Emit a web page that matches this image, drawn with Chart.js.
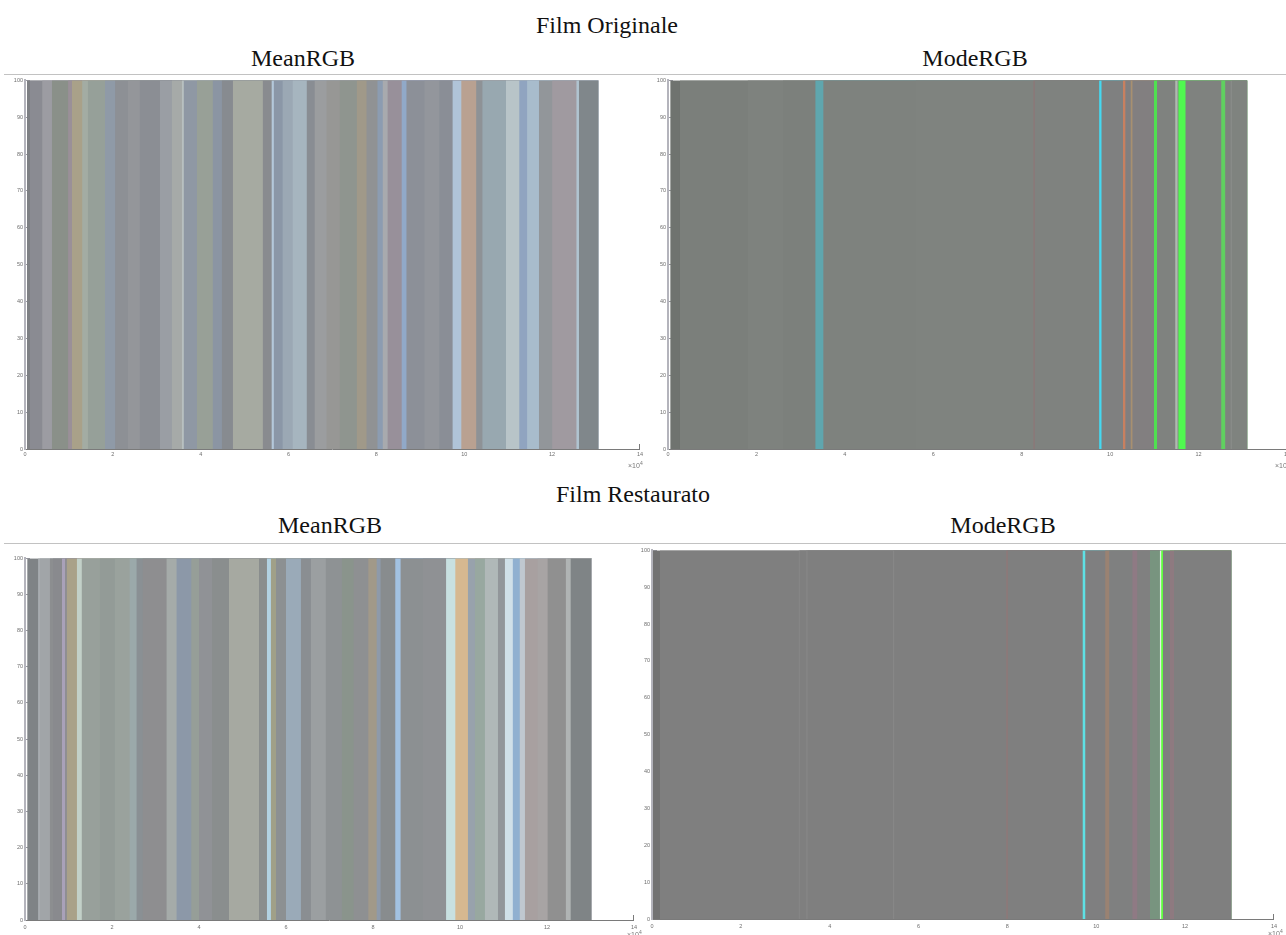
<!DOCTYPE html>
<html>
<head>
<meta charset="utf-8">
<script src="https://cdn.jsdelivr.net/npm/chart.js@4"></script>
<style>
  html, body { margin: 0; padding: 0; background: #fff; overflow: hidden; width: 1286px; height: 935px; }
  .t { position: absolute; font-family: "Liberation Serif", "Times New Roman", serif; font-size: 24px; line-height: 24px; color: #111; white-space: nowrap; transform: translateX(-50%); }
  .rule { position: absolute; left: 4px; width: 1282px; height: 1px; background: #c2c2c2; }
  canvas { position: absolute; }
  .exp { position: absolute; font-family: "Liberation Sans", Arial, sans-serif; font-size: 7px; line-height: 8px; color: #777; white-space: nowrap; }
  .exp sup { font-size: 5px; }
</style>
</head>
<body>
<div class="t" style="left:607px; top:13px">Film Originale</div>
<div class="t" style="left:303px; top:46px">MeanRGB</div>
<div class="t" style="left:975px; top:46px">ModeRGB</div>
<div class="rule" style="top:74px"></div>

<div class="t" style="left:633px; top:482px">Film Restaurato</div>
<div class="t" style="left:330px; top:513px">MeanRGB</div>
<div class="t" style="left:1003px; top:513px">ModeRGB</div>
<div class="rule" style="top:543px"></div>

<canvas id="origMean" width="650" height="400" style="left:0px; top:70px"></canvas>
<canvas id="origMode" width="660" height="400" style="left:643px; top:70px"></canvas>
<canvas id="restMean" width="646" height="387" style="left:0px; top:548px"></canvas>
<canvas id="restMode" width="659" height="395" style="left:627px; top:540px"></canvas>

<div class="exp" style="left:628px; top:459px">×10<sup>4</sup></div>
<div class="exp" style="left:1275px; top:459px">×10<sup>4</sup></div>
<div class="exp" style="left:627px; top:928px">×10<sup>4</sup></div>
<div class="exp" style="left:1268px; top:927px">×10<sup>4</sup></div>

<script>
// Frame positions (×10^4 frames) where the dominant colour changes, and the colour of each span.

// Film originale — mean RGB per shot
const origMeanBounds = [0.045, 0.11, 0.39, 0.61, 0.98, 1.07, 1.30, 1.43, 1.82, 2.05, 2.34, 2.61, 3.07, 3.34, 3.57, 3.61, 3.91, 4.27, 4.48, 4.73, 5.41, 5.61, 5.66, 5.86, 6.09, 6.41, 6.59, 6.86, 7.16, 7.55, 7.77, 8.02, 8.14, 8.25, 8.57, 8.68, 9.09, 9.43, 9.73, 9.93, 10.27, 10.41, 10.95, 11.25, 11.43, 11.70, 12.00, 12.55, 12.61, 13.05];
const origMeanColors = ['#7e8084', '#8a8b92', '#9c9ca2', '#8a9089', '#9a9098', '#a9a189', '#a3aca3', '#96a099', '#8f9aa7', '#8d9095', '#94969a', '#8b8e94', '#9a9ea4', '#a6aaa8', '#b8c0c0', '#8f98a4', '#98a097', '#8b95a3', '#878b90', '#a6aaa1', '#898b8f', '#b4c8da', '#8b97a7', '#9ba8b4', '#a6b5bf', '#898d93', '#9b9d9f', '#979795', '#8f958f', '#a09989', '#909294', '#8c9cb1', '#a8aaae', '#98909a', '#91a9c8', '#8c9098', '#93969c', '#8a8e96', '#b0c4d8', '#b9a191', '#8e9296', '#98a8b0', '#b8c4c8', '#90a4c0', '#a8bccc', '#92969a', '#a09aa0', '#b0c4d0', '#80878b'];

// Film originale — mode RGB per shot
const origModeBounds = [0.05, 0.27, 1.80, 2.60, 3.33, 3.51, 5.60, 8.26, 8.29, 9.75, 9.80, 10.29, 10.34, 10.46, 10.50, 10.99, 11.06, 11.47, 11.52, 11.54, 11.70, 12.51, 12.60, 12.72, 12.75, 13.10];
const origModeColors = ['#6f736f', '#7b7f7b', '#7e827e', '#7c807c', '#5fa6ae', '#7e827e', '#7f837f', '#8c7878', '#7f827f', '#45d8f0', '#7f8080', '#c88060', '#807f80', '#a89070', '#827f80', '#50e050', '#7f827f', '#b0b8b0', '#808480', '#50f850', '#7f827f', '#60d060', '#7f827f', '#8a8c8a', '#7f837f'];

// Film restaurato — mean RGB per shot
const restMeanBounds = [0.05, 0.30, 0.34, 0.57, 0.64, 0.85, 0.92, 0.96, 1.19, 1.30, 1.72, 2.06, 2.40, 2.56, 2.70, 3.25, 3.48, 3.82, 4.00, 4.30, 4.69, 5.38, 5.56, 5.65, 5.77, 6.00, 6.34, 6.57, 6.91, 7.28, 7.55, 7.89, 8.08, 8.17, 8.51, 8.63, 9.15, 9.68, 9.89, 10.18, 10.34, 10.57, 10.87, 11.03, 11.21, 11.37, 11.49, 11.78, 12.01, 12.43, 12.54, 13.02];
const restMeanColors = ['#7f8386', '#a8acb0', '#a1a5a8', '#8c8e90', '#898a8e', '#a9a1b9', '#8e8e92', '#a9a189', '#c2d0c8', '#98a09b', '#939b97', '#9aa29d', '#9ba9aa', '#8a9094', '#8e8e90', '#a5aba9', '#8c98a8', '#969e98', '#909296', '#8a8e8e', '#a6a9a1', '#8a8e8e', '#b2d2e2', '#a0a088', '#8c9092', '#9aaab8', '#8a8e92', '#9b9fa1', '#8e9294', '#8a948c', '#8e9092', '#a19989', '#8e9aaa', '#888c8e', '#a2c2e2', '#8c9092', '#8f9194', '#c8e0e0', '#d6b890', '#98a2ac', '#98a8a0', '#b0b8b8', '#92969a', '#d0e0e8', '#90b0d0', '#c0c8d0', '#a8a0a0', '#a8a4a4', '#909090', '#b0b4b4', '#7f8486'];

// Film restaurato — mode RGB per shot
const restModeBounds = [0.02, 0.18, 3.30, 3.33, 3.47, 3.50, 5.42, 5.45, 7.97, 8.01, 9.69, 9.75, 10.20, 10.29, 10.81, 10.92, 11.21, 11.43, 11.46, 11.50, 11.66, 11.75, 13.04];
const restModeColors = ['#727272', '#7f7f7f', '#868686', '#7f7f7f', '#868686', '#7f7f7f', '#878787', '#7f7f7f', '#8c7a7a', '#7f7f7f', '#5ee0e4', '#7f7f80', '#9a8272', '#7f8080', '#8f7a84', '#808080', '#78947f', '#e0f0e0', '#60ff40', '#7f7f7f', '#8e7a80', '#7f7f7f'];

// Axis ranges and ticks
const xTickMax = 14, xTickStep = 2;
const yTickMax = 100, yTickStep = 10;

Chart.defaults.font.family = '"Liberation Sans", Arial, sans-serif';
Chart.defaults.animation = false;

// Each colour span is a filled band starting at its own boundary and running to the
// last boundary; later bands are painted over earlier ones so adjacent colours meet cleanly.
function stripeBands(bounds, colors) {
  const last = bounds[bounds.length - 1];
  return colors.map((c, i) => ({
    data: [{ x: bounds[i], y: yTickMax }, { x: last, y: yTickMax }],
    backgroundColor: c,
    borderColor: c,
    borderWidth: 0,
    pointRadius: 0,
    tension: 0,
    fill: 'origin',
    order: colors.length - i
  }));
}

function barcode(id, bounds, colors, geo) {
  new Chart(document.getElementById(id), {
    type: 'line',
    data: { datasets: stripeBands(bounds, colors) },
    options: {
      responsive: false,
      maintainAspectRatio: false,
      events: [],
      layout: { padding: { top: 9, right: geo.padRight, left: 0, bottom: 0 } },
      plugins: { legend: { display: false }, tooltip: { enabled: false }, title: { display: false } },
      scales: {
        x: {
          type: 'linear',
          min: 0,
          max: xTickMax,
          ticks: { stepSize: xTickStep, autoSkip: false, maxRotation: 0, color: '#6e6e6e', font: { size: 5.5 }, padding: geo.labelPad },
          grid: { drawOnChartArea: false, drawTicks: true, tickLength: -5, color: '#7a7a7a' },
          border: { display: true, color: '#7a7a7a', width: 1 },
          afterFit: s => { s.height = geo.axisH; }
        },
        y: {
          type: 'linear',
          min: 0,
          max: yTickMax,
          ticks: { stepSize: yTickStep, color: '#6e6e6e', font: { size: 5.5 }, padding: 7 },
          grid: { drawOnChartArea: false, drawTicks: true, tickLength: -5, color: '#9a9aa2' },
          border: { display: true, color: '#b4b4bc', width: 2 },
          afterFit: s => { s.width = 25; }
        }
      }
    }
  });
}

barcode('origMean', origMeanBounds, origMeanColors, { padRight: 9, axisH: 21, labelPad: 7 });
barcode('origMode', origModeBounds, origModeColors, { padRight: 16, axisH: 21, labelPad: 7 });
barcode('restMean', restMeanBounds, restMeanColors, { padRight: 9, axisH: 15, labelPad: 9 });
barcode('restMode', restModeBounds, restModeColors, { padRight: 8, axisH: 16, labelPad: 9 });
</script>
</body>
</html>
